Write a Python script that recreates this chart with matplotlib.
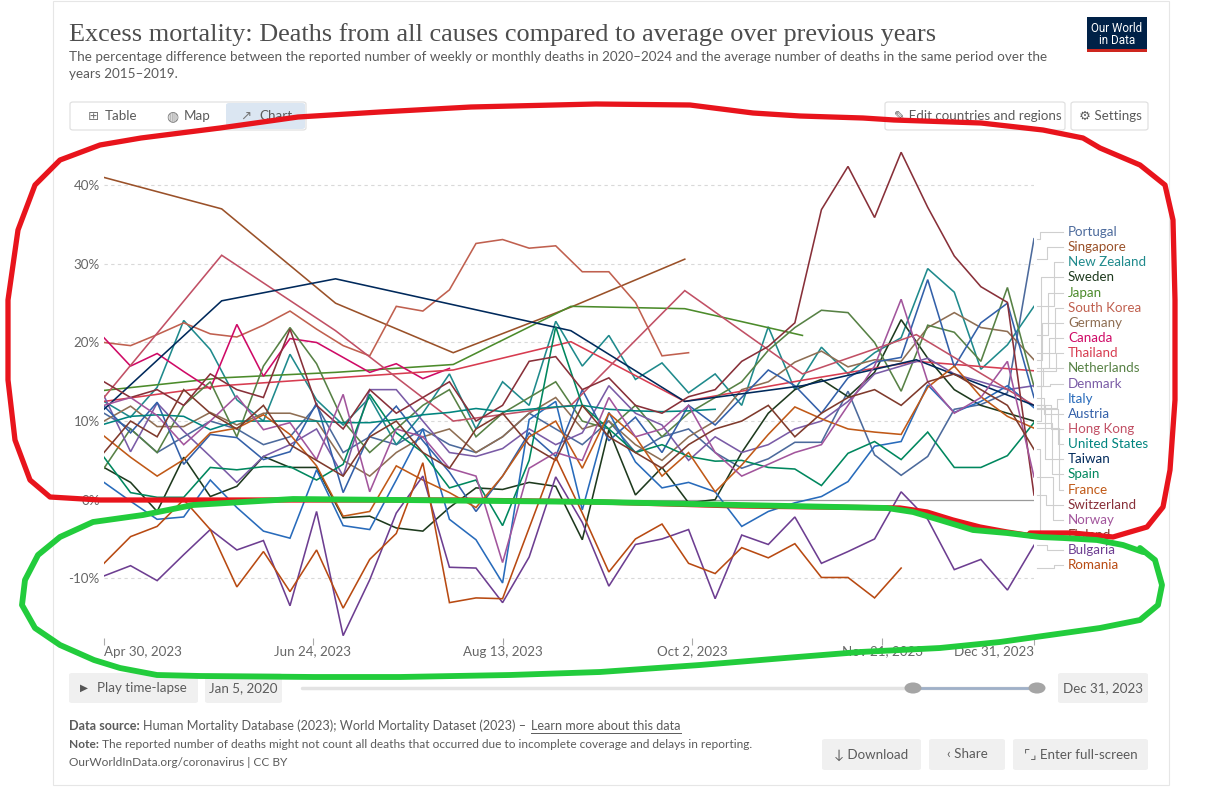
import datetime as dt
import matplotlib
matplotlib.use("Agg")
import matplotlib.pyplot as plt
import matplotlib.dates as mdates
from matplotlib.lines import Line2D
from matplotlib.patches import FancyBboxPatch, Rectangle, Circle

plt.rcParams['font.family'] = ['Lato', 'DejaVu Sans']

W, H = 1224, 800
def fx(x): return x / W
def fy(y): return 1 - y / H

# ---------------- data ----------------
start = dt.date(2023, 4, 30)
weekly_dates = [start + dt.timedelta(days=7 * i) for i in range(36)]
monthly_dates = [dt.date(2023, 4, 30), dt.date(2023, 5, 31), dt.date(2023, 6, 30),
                 dt.date(2023, 7, 31), dt.date(2023, 8, 31), dt.date(2023, 9, 30),
                 dt.date(2023, 10, 31), dt.date(2023, 11, 30), dt.date(2023, 12, 31)]

portugal = [11, 9, 6, 8, 10, 9, 7, 8, 12, 6, 8, 7, 9, 7, 6, 8, 11, 9, 7, 10, 6, 8, 9, 6,
            4, 5.2, 7.3, 7.3, 13.8, 5.7, 3.1, 5.5, 11.5, 12.1, 13.6, 33.2]
singapore = [41, 37, 25, 18.7, 24.5, 30.6]                      # monthly
new_zealand = [12.5, 10.5, 14.3, 22.8, 19.1, 12.7, 10, 18.5, 12.7, 9.5, 13, 7, 11, 16, 9, 15,
               12, 22.7, 17.0, 20.9, 15.3, 17.4, 13.6, 16, 12, 22.0, 14, 19.4, 16, 18.7, 20.6,
               29.4, 26.4, 16.6, 19.7, 24.6]
sweden = [4.1, 2.2, -1.5, 5.4, 0.4, 1.7, 5.5, 4.1, 4.1, -2.3, -2.1, -3.6, -4.0, -1, 1.5, 1.3,
          2.2, 1.7, -5.1, 8.9, 0.6, 4.1, -0.4, 0, 6, 11, 14, 15.3, 13.1, 16.2, 22.9, 18, 14, 12,
          11, 10]
japan = [13.9, 15.5, 16.2, 17.2, 24.6, 24.3, 20.9]               # monthly
south_korea = [20.0, 19.6, 21.0, 22.5, 21.1, 20.7, 22.2, 24.0, 21.7, 19.6, 18.3, 24.6, 24.0,
               26.7, 32.6, 33.1, 32.0, 32.3, 29.0, 29.0, 25.1, 18.3, 18.7]
germany = [10, 11.9, 9.3, 9.3, 11.1, 9.5, 11, 11, 10, 5, 3, 6, 8, 9, 6, 8, 11, 13, 9, 10, 7, 5,
           8, 10, 14, 15, 17.5, 18.9, 16.9, 17.8, 17.6, 21.9, 23.8, 21.9, 21.4, 17.8]
canada = [20.6, 17.0, 18.6, 16.3, 14.1, 22.3, 15.7, 20.5, 20.0, 18.1, 16.2, 17.3, 15.4, 16.7]
thailand = [12.5, 14.5, 15.5, 16.5, 20.1, 12.5, 15.2, 17.6, 16.4]  # monthly
netherlands = [4, 9, 6, 12, 15, 8, 17, 21.9, 17.3, 10, 6, 9, 12, 14, 8, 11, 13, 15, 10, 9, 12, 8,
               11, 13, 15, 19, 21.9, 24.1, 23.8, 20, 13.8, 22.2, 21.3, 17.6, 27.0, 14.4]
denmark = [13.2, 6.1, 12.3, 8.7, 5.5, 2.2, 5.5, 7, 9, 3, 14, 14, 10, 6, 5.5, 6.5, 9, 7, 8.5,
           14.5, 11, 9.5, 5, 8, 6, 7, 9, 10, 12.5, 16, 17, 18, 16, 15, 14, 14.5]
italy = [2.2, -0.2, -2.5, -2.2, 2.5, -1.0, -4.0, -4.9, 3.8, -3.3, -3.8, 2.5, 9, -2.5, -5.1,
         -10.6, 10.2, 12.5, -1.3, 11.1, 4.8, 1.5, 2.2, 1.0, -3.4, -1.5, -0.4, 0.4, 2.3, 6.8, 7.4,
         14.6, 11.1, 12.5, 14.5, 11.7]
austria = [11.9, 8.5, 12.4, 4.5, 8.3, 7.9, 5.1, 6.1, 12.3, 0.9, 8.3, 11.9, 7.5, 3.5, -1.5, 3.0,
           8.5, 5.5, 14, 7.5, 10.5, 6, 12, 9.5, 13, 16.5, 14.5, 11, 15.5, 17.5, 18.1, 28.0, 16.9,
           22.5, 25.0, 13.0]
hong_kong = [13, 31.1, 21.5, 10, 12, 26.6, 16, 21, 12]            # monthly
united_states = [9.6, 10.6, 10.8, 10.6, 8.9, 10, 10, 10, 10, 9.8, 9.8, 10.2, 10.8, 11.1, 11.6,
                 11.2, 11.5, 11.8, 12, 11.5, 11.3, 11.2, 11.3, 11.5]
taiwan = [11.5, 25.3, 28.1, 24.8, 21.5, 12.5, 14.5, 17.8, 12.0]    # monthly
spain = [5.4, 0.9, 0.3, 0.3, 4.1, 3.8, 4.2, 4.2, 2.5, 4.5, 13.4, 8.5, 6, 1.5, 2.5, -3.3, 5, 22,
         12, 9, 6, 7, 5.5, 4.9, 5, 4.1, 3.9, 1.8, 5.9, 7.4, 5.1, 8.6, 4.1, 4.1, 5.6, 9.8]
france = [8.1, 5.4, 3.0, 5.1, 8.5, 9.1, 10.8, 8.3, 4.3, -2.1, -1.5, 4.3, 2.5, 0.9, -1, 3, 8, 10,
          4, 11, 8, 3, 6, 1, 4.4, 8.3, 11.8, 10.3, 9.0, 8.6, 8.3, 14.3, 17, 13.1, 10.6, 9.1]
switzerland = [15, 13, 14, 12, 16, 14, 13, 21.7, 12, 9, 14, 11, 13, 15, 10, 12, 17.6, 18.2, 14,
               15.5, 12, 11, 13.1, 14, 17.6, 19.5, 22.5, 36.9, 42.4, 35.9, 44.2, 37.2, 31, 27.1,
               25.1, 0.6]
norway = [12, 13, 10.7, 7, 10, 13.2, 8.9, 9.8, 5.1, 13.4, 1, 9, 8, 4, 3, -8, 4, 6, 5, 13, 8, 9,
          12, 6, 3, 4.5, 6, 7, 12, 17, 25.5, 15, 11, 13, 17.6, 2.9]
finland = [6, 10, 8, 14, 11, 9, 12, 7, 5, 3, 8, 10, 6, 4, 9, 11, 7, 5, 12, 8, 6, 4, 7, 9, 10, 12,
           8, 11, 13, 14, 12, 15, 16, 14, 12, 6.4]
bulgaria = [-9.7, -8.4, -10.3, -7.0, -3.8, -6.4, -5.2, -13.5, -1.5, -17.3, -10.2, -1.7, 3, -8.6,
            -8.7, -13.1, -7.3, 2.9, -2.9, -11.0, -5.7, -5.0, -3.8, -12.6, -4.5, -5.7, -2.2, -8.1,
            -6.6, -5.0, 1.0, -2.5, -8.9, -7.6, -11.5, -5.8]
romania = [-8.1, -4.7, -3.4, 0, -3.8, -11.1, -6.6, -11.7, -6.4, -13.8, -7.6, -4.3, 4.7, -13.1,
           -12.5, -12.6, -3.6, 5.4, -1.7, -9.2, -5.0, -3.1, -8.1, -9.4, -6.1, -7.4, -5.6, -9.9,
           -9.9, -12.5, -8.7]

# name, values, weekly?, colour  (legend order top->bottom)
series = [
    ("Portugal", portugal, True, "#4C6A9C"),
    ("Singapore", singapore, False, "#9A5129"),
    ("New Zealand", new_zealand, True, "#1F8A8C"),
    ("Sweden", sweden, True, "#1E3A1E"),
    ("Japan", japan, False, "#4C8B2B"),
    ("South Korea", south_korea, True, "#C0604F"),
    ("Germany", germany, True, "#8E6E53"),
    ("Canada", canada, True, "#CF0A66"),
    ("Thailand", thailand, False, "#D73C50"),
    ("Netherlands", netherlands, True, "#578145"),
    ("Denmark", denmark, True, "#7A5BA6"),
    ("Italy", italy, True, "#286BBB"),
    ("Austria", austria, True, "#3360A9"),
    ("Hong Kong", hong_kong, False, "#C15065"),
    ("United States", united_states, True, "#00847E"),
    ("Taiwan", taiwan, False, "#00295B"),
    ("Spain", spain, True, "#00875E"),
    ("France", france, True, "#C05917"),
    ("Switzerland", switzerland, True, "#883039"),
    ("Norway", norway, True, "#A2559C"),
    ("Finland", finland, True, "#7F3A2C"),
    ("Bulgaria", bulgaria, True, "#6D3E91"),
    ("Romania", romania, True, "#B84A12"),
]

y_ticks = [-10, 0, 10, 20, 30, 40]
x_ticks = [dt.date(2023, 4, 30), dt.date(2023, 6, 24), dt.date(2023, 8, 13),
           dt.date(2023, 10, 2), dt.date(2023, 11, 21), dt.date(2023, 12, 31)]

# ---------------- figure ----------------
fig = plt.figure(figsize=(W / 100, H / 100), dpi=100)
fig.patch.set_facecolor("white")

# card border
fig.add_artist(Rectangle((fx(53), fy(785)), fx(1169) - fx(53), fy(1) - fy(785),
                         transform=fig.transFigure, fill=False, ec="#e6e6e6", lw=0.8))

ax_left, ax_right, ax_top, ax_bot = 104, 1034, 146, 638
ax = fig.add_axes([fx(ax_left), fy(ax_bot), fx(ax_right) - fx(ax_left), fy(ax_top) - fy(ax_bot)])
ax.set_facecolor("none")
for s in ax.spines.values():
    s.set_visible(False)

ax.set_xlim(mdates.date2num(x_ticks[0]), mdates.date2num(x_ticks[-1]))
ax.set_ylim(-17.6, 45)

for yv in y_ticks:
    if yv == 0:
        ax.axhline(0, color="#9a9a9a", lw=0.9, zorder=1)
    else:
        ax.axhline(yv, color="#d9d9d9", lw=0.8, ls=(0, (3, 3)), zorder=0)

ax.set_yticks(y_ticks)
ax.set_yticklabels([f"{v}%" for v in y_ticks])
ax.tick_params(axis="y", length=0, pad=3, labelsize=9.6, labelcolor="#666666")
ax.set_xticks([mdates.date2num(d) for d in x_ticks])
xl = ax.set_xticklabels([d.strftime("%b ") + str(d.day) + d.strftime(", %Y") for d in x_ticks])
ax.tick_params(axis="x", length=5, width=0.8, color="#aaaaaa", pad=0.5, labelsize=9.6,
               labelcolor="#666666")
xl[0].set_ha("left")
xl[-1].set_ha("right")

last_points = []
for name, vals, weekly, col in series:
    dates = weekly_dates[:len(vals)] if weekly else monthly_dates[:len(vals)]
    ax.plot(mdates.date2num(dates), vals, color=col, lw=1.15, zorder=3,
            solid_joinstyle="miter")
    last_points.append((mdates.date2num(dates[-1]), vals[-1]))

# labels + leader lines
fig.canvas.draw()
label_x = 1068
for k, ((name, vals, weekly, col), (lx, lv)) in enumerate(zip(series, last_points)):
    ly = 232 + 15.15 * k
    px, py = ax.transData.transform((lx, lv))
    y_end = H - py
    elbow = 1040 + (k * 7) % 20
    xs = [1037, elbow, elbow, 1063]
    ys = [y_end, y_end, ly, ly]
    fig.add_artist(Line2D([fx(v) for v in xs], [fy(v) for v in ys], transform=fig.transFigure,
                          color="#cfcfcf", lw=0.8, zorder=2))
    fig.text(fx(label_x), fy(ly), name, color=col, fontsize=9.6, ha="left", va="center")

# ---------------- header ----------------
fig.text(fx(69), fy(41), "Excess mortality: Deaths from all causes compared to average over previous years",
         family=["Liberation Serif", "DejaVu Serif"], fontsize=18.9, color="#4d4d4d", va="baseline")
fig.text(fx(69), fy(61), "The percentage difference between the reported number of weekly or monthly deaths in 2020\u20132024 and the average number of deaths in the same period over the",
         fontsize=9.7, color="#5b5b5b", va="baseline")
fig.text(fx(69), fy(78), "years 2015\u20132019.", fontsize=9.7, color="#5b5b5b", va="baseline")

# logo
fig.add_artist(Rectangle((fx(1087), fy(52)), fx(60), 35 / H,
                         transform=fig.transFigure, fc="#002147", ec="none"))
fig.add_artist(Rectangle((fx(1087), fy(52)), fx(60), 3 / H, transform=fig.transFigure,
                         fc="#ce261e", ec="none"))
fig.text(fx(1117), fy(28), "Our World", color="white", fontsize=8.4, ha="center", va="center",
         family=["Roboto", "DejaVu Sans"])
fig.text(fx(1117), fy(41), "in Data", color="white", fontsize=8.4, ha="center", va="center",
         family=["Roboto", "DejaVu Sans"])

def box(x0, y0, x1, y1, fc="white", ec="#dddddd", r=3):
    p = FancyBboxPatch((fx(x0), fy(y1)), fx(x1) - fx(x0), fy(y0) - fy(y1),
                       boxstyle=f"round,pad=0,rounding_size={r / W}",
                       transform=fig.transFigure, fc=fc, ec=ec, lw=0.8, zorder=1)
    fig.add_artist(p)

box(70, 102, 306, 130)
box(226, 103, 305, 129, fc="#dbe6f2", ec="none")
fig.text(fx(88), fy(116), "\u229e", fontsize=9.5, color="#777777", va="center", family=["DejaVu Sans"])
fig.text(fx(105), fy(116), "Table", fontsize=9.6, color="#5b5b5b", va="center")
fig.text(fx(166), fy(116), "\u25cd", fontsize=10, color="#777777", va="center", family=["DejaVu Sans"])
fig.text(fx(184), fy(116), "Map", fontsize=9.6, color="#5b5b5b", va="center")
fig.text(fx(240), fy(116), "\u2197", fontsize=9.5, color="#777777", va="center", family=["DejaVu Sans"])
fig.text(fx(259), fy(116), "Chart", fontsize=9.6, color="#5b5b5b", va="center")

box(885, 102, 1065, 130)
fig.text(fx(894), fy(116), "\u270e Edit countries and regions", fontsize=9.6, color="#5b5b5b",
         va="center")
box(1071, 102, 1148, 130)
fig.text(fx(1079), fy(116), "\u2699 Settings", fontsize=9.6, color="#5b5b5b", va="center")

# ---------------- timeline ----------------
box(69, 673, 198, 703, fc="#f0f0f0", ec="none")
fig.text(fx(80), fy(688), "\u25b6", fontsize=7.5, color="#555555", va="center", family=["DejaVu Sans"])
fig.text(fx(97), fy(688), "Play time-lapse", fontsize=9.6, color="#5b5b5b", va="center")
box(205, 673, 282, 703, fc="#f0f0f0", ec="none")
fig.text(fx(243.5), fy(688), "Jan 5, 2020", fontsize=9.6, color="#5b5b5b", va="center", ha="center")
fig.add_artist(Line2D([fx(302), fx(1036)], [fy(688), fy(688)], transform=fig.transFigure,
                      color="#e3e3e3", lw=2.5, solid_capstyle="round"))
fig.add_artist(Line2D([fx(913), fx(1037)], [fy(688), fy(688)], transform=fig.transFigure,
                      color="#9fb0c8", lw=2.0))
for cx in (913, 1037):
    fig.add_artist(Circle((fx(cx), fy(688)), 8.5 / W, transform=fig.transFigure,
                          fc="#a5a5a5", ec="none", zorder=3))
box(1058, 673, 1148, 703, fc="#f0f0f0", ec="none")
fig.text(fx(1103), fy(688), "Dec 31, 2023", fontsize=9.6, color="#5b5b5b", va="center", ha="center")

# ---------------- footer ----------------
renderer = fig.canvas.get_renderer()
t1 = fig.text(fx(69), fy(726), "Data source:", fontsize=9.1, color="#5b5b5b", va="center",
              weight="bold")
w1 = t1.get_window_extent(renderer).width
t2 = fig.text(fx(69 + w1 + 3), fy(726),
              "Human Mortality Database (2023); World Mortality Dataset (2023) \u2013 ",
              fontsize=9.1, color="#5b5b5b", va="center")
w2 = t2.get_window_extent(renderer).width
t3 = fig.text(fx(69 + w1 + 3 + w2 + 2), fy(726), "Learn more about this data", fontsize=9.1,
              color="#5b5b5b", va="center")
w3 = t3.get_window_extent(renderer).width
x3 = 69 + w1 + 3 + w2 + 2
fig.add_artist(Line2D([fx(x3), fx(x3 + w3)], [fy(733), fy(733)], transform=fig.transFigure,
                      color="#5b5b5b", lw=0.7))
t4 = fig.text(fx(69), fy(745), "Note:", fontsize=8.6, color="#5b5b5b", va="center", weight="bold")
w4 = t4.get_window_extent(renderer).width
fig.text(fx(69 + w4 + 3), fy(745),
         "The reported number of deaths might not count all deaths that occurred due to incomplete coverage and delays in reporting.",
         fontsize=8.6, color="#5b5b5b", va="center")
fig.text(fx(69), fy(762), "OurWorldInData.org/coronavirus | CC BY", fontsize=8.6, color="#5b5b5b",
         va="center")

box(822, 739, 921, 770, fc="#f0f0f0", ec="none")
fig.text(fx(871.5), fy(754.5), "\u2193 Download", fontsize=9.6, color="#5b5b5b", va="center",
         ha="center")
box(929, 739, 1005, 770, fc="#f0f0f0", ec="none")
fig.text(fx(967), fy(754.5), "\u2039 Share", fontsize=9.6, color="#5b5b5b", va="center", ha="center")
box(1013, 739, 1148, 770, fc="#f0f0f0", ec="none")
fig.text(fx(1080.5), fy(754.5), "\u231c\u231f Enter full-screen", fontsize=9.6, color="#5b5b5b",
         va="center", ha="center")

# ---------------- hand-drawn annotations ----------------
red_path = [(1030, 533), (1073, 533), (1113, 537), (1147, 527), (1163, 507), (1170, 470),
            (1175, 400), (1175, 300), (1173, 220), (1165, 185), (1140, 165), (1100, 148),
            (1083, 138), (1043, 130), (981, 123), (894, 120), (863, 118), (800, 116), (753, 113),
            (690, 105), (596, 104), (471, 107), (380, 112), (298, 117), (220, 128), (141, 138),
            (100, 145), (60, 160), (35, 185), (18, 230), (8, 300), (8, 380), (15, 440),
            (30, 480), (50, 497), (100, 500), (300, 500), (460, 500), (600, 502), (740, 506),
            (900, 508), (927, 512), (953, 520), (980, 527), (1007, 532), (1033, 536)]
green_path = [(1140, 548), (1155, 560), (1162, 585), (1158, 605), (1140, 620), (1100, 628),
              (1050, 635), (1000, 642), (940, 648), (860, 652), (785, 658), (700, 665),
              (600, 672), (510, 675), (400, 677), (314, 677), (200, 676), (157, 675), (120, 668),
              (94, 660), (60, 645), (35, 628), (22, 605), (25, 580), (38, 555), (60, 537),
              (93, 522), (143, 515), (193, 505), (243, 502), (293, 499), (400, 500), (600, 502),
              (740, 505), (887, 508), (913, 512), (940, 520), (973, 530), (1007, 533),
              (1040, 537), (1063, 538), (1097, 540), (1123, 545), (1143, 552)]
fig.add_artist(Line2D([fx(p[0]) for p in red_path], [fy(p[1]) for p in red_path],
                      transform=fig.transFigure, color="#e8141c", lw=3.8, zorder=20,
                      solid_capstyle="round", solid_joinstyle="round"))
fig.add_artist(Line2D([fx(p[0]) for p in green_path], [fy(p[1]) for p in green_path],
                      transform=fig.transFigure, color="#22cc3c", lw=4.2, zorder=21,
                      solid_capstyle="round", solid_joinstyle="round"))

fig.savefig("out.png", dpi=100)
